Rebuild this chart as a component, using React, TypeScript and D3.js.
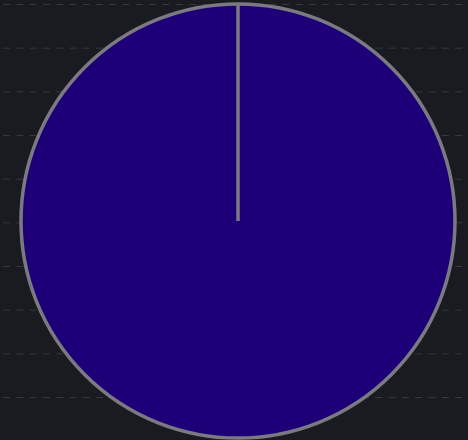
import { useEffect, useRef } from "react";
import * as d3 from "d3";

const categories = ["Total"];
const values = [100];
const gridRows = [0, 1, 2, 3, 4, 5, 6, 7, 8, 9];

const width = 468;
const height = 440;
const cx = 238;
const cy = 221;
const radius = 217;

const App = () => {
  const ref = useRef<SVGSVGElement>(null);

  useEffect(() => {
    document.body.style.margin = "0";
    const svg = d3.select(ref.current);
    svg.selectAll("*").remove();

    svg
      .append("rect")
      .attr("width", width)
      .attr("height", height)
      .attr("fill", "#1a1b21");

    const y = d3.scaleLinear().domain([0, 9]).range([4, 397]);

    svg
      .append("g")
      .selectAll("line")
      .data(gridRows)
      .join("line")
      .attr("x1", 3)
      .attr("x2", width)
      .attr("y1", (d) => y(d) + 0.5)
      .attr("y2", (d) => y(d) + 0.5)
      .attr("stroke", "#37383e")
      .attr("stroke-width", 1)
      .attr("stroke-dasharray", "7,6.3");

    const data = categories.map((c, i) => ({ name: c, value: values[i] }));
    const pie = d3
      .pie<{ name: string; value: number }>()
      .value((d) => d.value)
      .sort(null);
    const arcs = pie(data);
    const arc = d3
      .arc<d3.PieArcDatum<{ name: string; value: number }>>()
      .innerRadius(0)
      .outerRadius(radius);

    const g = svg.append("g").attr("transform", `translate(${cx},${cy})`);

    g.selectAll("path")
      .data(arcs)
      .join("path")
      .attr("d", arc)
      .attr("fill", "#1d0077")
      .attr("stroke", "#7b7a82")
      .attr("stroke-width", 3.5);

    // slice borders from the centre
    g.selectAll("line.edge")
      .data(arcs)
      .join("line")
      .attr("class", "edge")
      .attr("x1", 0)
      .attr("y1", 0)
      .attr("x2", (d) => radius * Math.sin(d.startAngle))
      .attr("y2", (d) => -radius * Math.cos(d.startAngle))
      .attr("stroke", "#7b7a82")
      .attr("stroke-width", 3.5);
  }, []);

  return (
    <svg
      ref={ref}
      width={width}
      height={height}
      style={{ display: "block" }}
    />
  );
};

export default App;
